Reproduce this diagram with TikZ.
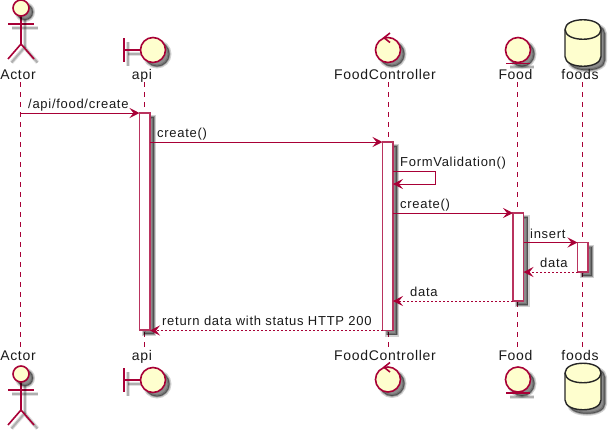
\documentclass[tikz,border=0pt]{standalone}
\usepackage{fontspec}
\setmainfont[LetterSpace=5]{Liberation Sans}
\usetikzlibrary{arrows.meta}
\definecolor{umlred}{HTML}{A80036}
\definecolor{umlfill}{HTML}{FEFECE}
\tikzset{
  lineshad/.style={
    preaction={draw=black,draw opacity=.12,line width=4pt,transform canvas={xshift=3.5pt,yshift=-3.5pt}},
    preaction={draw=black,draw opacity=.22,line width=2pt,transform canvas={xshift=3.5pt,yshift=-3.5pt}}},
  boxshad/.style={
    preaction={draw=black,fill=black,draw opacity=.18,fill opacity=.45,line width=4pt,transform canvas={xshift=4pt,yshift=-4pt}},
    preaction={draw=black,draw opacity=.30,line width=1.5pt,transform canvas={xshift=4pt,yshift=-4pt}}},
  figline/.style={draw=umlred,line width=1.6pt,lineshad},
  figcircle/.style={draw=umlred,fill=umlfill,line width=1.6pt,boxshad},
  plainline/.style={draw=umlred,line width=1.6pt},
  dbbox/.style={draw=black!85,fill=umlfill,line width=1.4pt,boxshad},
  lifeline/.style={draw=umlred,line width=.9pt,dash pattern=on 5pt off 5pt},
  barbox/.style={draw=umlred!80,fill=white,line width=1.3pt,boxshad,minimum width=10.5pt,inner sep=0pt,outer sep=0pt},
  msg/.style={draw=umlred,line width=1pt,-{Stealth[length=10pt,width=10pt,inset=4pt]}},
  retmsg/.style={msg,dash pattern=on 2pt off 2pt},
  lbl/.style={font=\fontsize{14}{16}\selectfont,text=black!90,inner sep=0pt,anchor=base},
  msglbl/.style={lbl,font=\fontsize{13}{15}\selectfont\addfontfeature{LetterSpace=5.5},anchor=base west},
}
% x y = centre of the head
\newcommand{\actorfig}[2]{
  \draw[figline,shift={(#1,#2)}] (-13,16) -- (13,16);
  \draw[figline,shift={(#1,#2)}] (0,8) -- (0,36);
  \draw[figline,shift={(#1,#2)}] (-13,51) -- (0,36) -- (13,51);
  \draw[figcircle] (#1,#2) circle (8);
}
% x y = centre of the circle
\newcommand{\boundaryfig}[2]{
  \draw[figline,shift={(#1,#2)}] (-29,-12) -- (-29,12);
  \draw[figline,shift={(#1,#2)}] (-29,0) -- (-12,0);
  \draw[figcircle] (#1,#2) circle (12.5);
}
\newcommand{\controlfig}[2]{
  \draw[figcircle] (#1,#2) circle (12.5);
  \draw[plainline,shift={(#1,#2)}] (2,-17) -- (-4,-12.3) -- (2,-7.5);
}
\newcommand{\entityfig}[2]{
  \draw[figcircle] (#1,#2) circle (12.5);
  \draw[figline,shift={(#1,#2)}] (-12,13.5) -- (12,13.5);
}
% x y = top left of the cylinder
\newcommand{\dbfig}[2]{
  \draw[dbbox,shift={(#1,#2)}] (0,10) .. controls (0,-3) and (36,-3) .. (36,10) -- (36,37)
    .. controls (36,50) and (0,50) .. (0,37) -- cycle;
  \draw[draw=black!85,line width=1.4pt,shift={(#1,#2)}] (0,10) .. controls (0,23) and (36,23) .. (36,10);
}
\begin{document}
\begin{tikzpicture}[x=1pt,y=-1pt]
  \useasboundingbox (0,0) rectangle (608,429);
  % lifelines
  \coordinate (actortop) at (20.5,82);
  \coordinate (actorbot) at (20.5,347);
  \coordinate (apitop) at (144.5,82);
  \coordinate (apibot) at (144.5,347);
  \coordinate (ctrltop) at (388,82);
  \coordinate (ctrlbot) at (388,347);
  \coordinate (foodtop) at (517.5,82);
  \coordinate (foodbot) at (517.5,347);
  \coordinate (dbtop) at (582.5,82);
  \coordinate (dbbot) at (582.5,347);
  \draw[lifeline] (actortop) -- (actorbot);
  \draw[lifeline] (apitop) -- (apibot);
  \draw[lifeline] (ctrltop) -- (ctrlbot);
  \draw[lifeline] (foodtop) -- (foodbot);
  \draw[lifeline] (dbtop) -- (dbbot);
  % heads and feet
  \actorfig{21}{8}
  \boundaryfig{153}{50}
  \controlfig{388}{50}
  \entityfig{518}{50}
  \dbfig{565}{19.5}
  \actorfig{21}{374}
  \boundaryfig{153}{380}
  \controlfig{388}{379.5}
  \entityfig{518}{379.5}
  \dbfig{565}{363}
  \node[lbl] (actorname) at (18,79) {Actor};
  \node[lbl] (apiname) at (142,79) {api};
  \node[lbl] (ctrlname) at (385,79) {FoodController};
  \node[lbl] (foodname) at (515.5,79) {Food};
  \node[lbl] (dbname) at (580,79) {foods};
  \node[lbl] (actorname2) at (18,360) {Actor};
  \node[lbl] (apiname2) at (142,360) {api};
  \node[lbl] (ctrlname2) at (385,360) {FoodController};
  \node[lbl] (foodname2) at (515.5,360) {Food};
  \node[lbl] (dbname2) at (580,360) {foods};
  % activations
  \node[barbox,minimum height=217pt] (barapi) at (144.75,221.5) {};
  \node[barbox,minimum height=188.5pt] (barctrl) at (387.75,236.25) {};
  \node[barbox,minimum height=88pt] (barfood) at (518.25,257) {};
  \node[barbox,minimum height=29.5pt] (bardb) at (582.75,257.25) {};
  % messages
  \coordinate (msgstart) at (20.5,113);
  \coordinate (selfa) at (393,171);
  \coordinate (selfb) at (435,171);
  \coordinate (selfc) at (435,184);
  \coordinate (selfd) at (393,184);
  \draw[msg] (actortop |- msgstart) -- (barapi.north west);
  \draw[msg] (barapi.east |- barctrl.north) -- (barctrl.north west);
  \draw[msg] (selfa) -- (selfb) -- (selfc) -- (selfd);
  \draw[msg] (barctrl.east |- barfood.north) -- (barfood.north west);
  \draw[msg] (barfood.east |- bardb.north) -- (bardb.north west);
  \draw[retmsg] (bardb.south west) -- (barfood.east |- bardb.south);
  \draw[retmsg] (barfood.south west) -- (barctrl.east |- barfood.south);
  \draw[retmsg] (barctrl.south west) -- (barapi.east |- barctrl.south);
  \node[msglbl] (msgone) at (28,108.5) {/api/food/create};
  \node[msglbl] (msgtwo) at (157,137.5) {create()};
  \node[msglbl] (msgthree) at (400,166.5) {FormValidation()};
  \node[msglbl] (msgfour) at (400,208.5) {create()};
  \node[msglbl] (msgfive) at (530,238.5) {insert};
  \node[msglbl] (msgsix) at (540,267.5) {data};
  \node[msglbl] (msgseven) at (410,296.5) {data};
  \node[msglbl] (msgeight) at (162,325.5) {return data with status HTTP 200};
\end{tikzpicture}
\end{document}
